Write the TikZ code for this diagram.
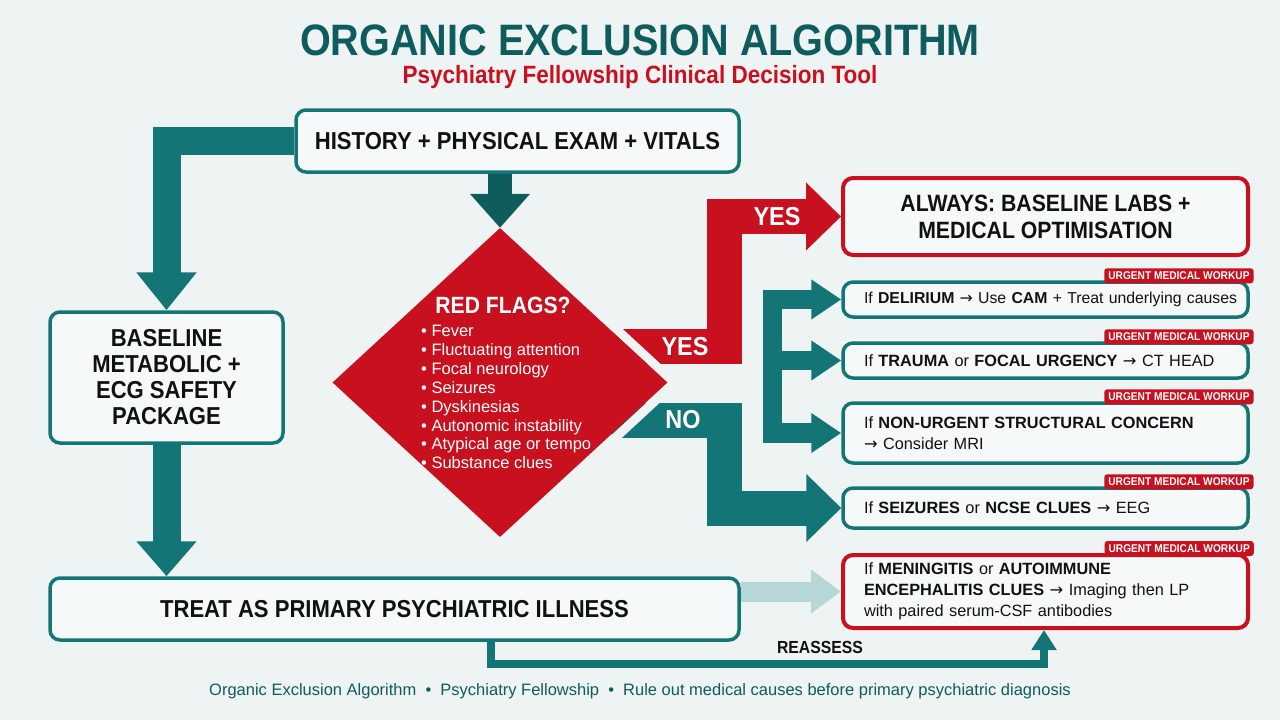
\documentclass[tikz,border=0pt]{standalone}
\usepackage{fontspec}
\setmainfont{Liberation Sans}
\newfontfamily\cf{Liberation Sans}[FakeStretch=0.9]
\newfontfamily\dv{DejaVu Sans}
\usetikzlibrary{shapes.geometric,arrows.meta,calc,backgrounds}
\definecolor{bgc}{HTML}{EEF3F4}
\definecolor{teal1}{HTML}{137576}
\definecolor{tealdk}{HTML}{0E5C5C}
\definecolor{red1}{HTML}{C8101E}
\definecolor{lteal}{HTML}{B7D6D8}
\definecolor{boxfill}{HTML}{F6F9FA}
\definecolor{ink}{HTML}{111111}
\newcommand{\hb}[1]{{\bfseries #1}}
\newcommand{\ar}{{\dv →}}
\newcommand{\fsz}[2]{\fontsize{#1}{#2}\selectfont}
\begin{document}
\begin{tikzpicture}[x=1pt,y=-1pt,
  tbox/.style={draw=teal1, line width=3.5pt, rounded corners=10pt, fill=boxfill, inner sep=0pt, text=ink},
  rbox/.style={draw=red1, line width=4pt, rounded corners=10pt, fill=boxfill, inner sep=0pt, text=ink},
  headtxt/.style={font=\cf\bfseries\fsz{24.5}{26.5}, align=center},
  sidebox/.style={minimum width=405pt, text width=363pt, inner xsep=21pt, inner ysep=0pt, align=left, font=\fsz{16.3}{21}},
  badge/.style={fill=red1, rounded corners=3pt, text=white, font=\cf\bfseries\fsz{11.3}{12}, inner xsep=4pt, inner ysep=0pt, minimum height=15pt, anchor=east},
  fatteal/.style={draw=teal1, line width=28pt, line join=miter, -{Triangle[length=38pt,width=58pt]}},
  fatred/.style={draw=red1, line width=35pt, line join=miter, -{Triangle[length=35pt,width=66pt]}},
  fatno/.style={draw=teal1, line width=35pt, line join=miter, -{Triangle[length=35pt,width=66pt]}},
  fatE/.style={draw=teal1, line width=19.5pt, line join=miter, -{Triangle[length=30pt,width=38pt]}},
  lbl/.style={text=white, font=\cf\bfseries\fsz{26}{28}}
]
\useasboundingbox (0,0) rectangle (1280,720);
\begin{scope}[on background layer]
\fill[bgc] (0,0) rectangle (1280,720);
\end{scope}

% titles
\node[text=tealdk, font=\cf\bfseries\fsz{44}{46}] (title) at (640,40) {ORGANIC EXCLUSION ALGORITHM};
\node[text=red1, font=\cf\bfseries\fsz{25}{27}] (subtitle) at (640,77) {Psychiatry Fellowship Clinical Decision Tool};

% main boxes
\node[tbox, headtxt, minimum width=443pt, minimum height=62pt] (hist) at (517.5,141) {HISTORY + PHYSICAL EXAM + VITALS};
\node[tbox, headtxt, minimum width=233pt, minimum height=131pt, font=\cf\bfseries\fsz{24.5}{26}] (base) at (166.5,377.5) {BASELINE\\METABOLIC +\\ECG SAFETY\\PACKAGE};
\node[tbox, headtxt, minimum width=689pt, minimum height=62pt] (treat) at (394.5,609) {TREAT AS PRIMARY PSYCHIATRIC ILLNESS};

% diamond
\node[diamond, fill=red1, minimum width=335pt, minimum height=309pt, inner sep=0pt] (dia) at (500,382.5) {};
\node[text=white, font=\cf\bfseries\fsz{23.5}{25}] (rf) at (503,305) {RED FLAGS?};
\node[text=white, font=\fsz{16.5}{18.9}, align=left, anchor=north west, inner sep=0pt] (flags) at (421,325) {%
\textbullet\ Fever\\
\textbullet\ Fluctuating attention\\
\textbullet\ Focal neurology\\
\textbullet\ Seizures\\
\textbullet\ Dyskinesias\\
\textbullet\ Autonomic instability\\
\textbullet\ Atypical age or tempo\\
\textbullet\ Substance clues};

% right column
\node[rbox, headtxt, minimum width=405pt, minimum height=77pt, font=\cf\bfseries\fsz{23.6}{27}] (always) at (1045.5,216.5) {ALWAYS: BASELINE LABS +\\MEDICAL OPTIMISATION};
\node[tbox, sidebox, minimum height=35pt, font=\fsz{15.8}{21}] (b1) at (1045.5,299.5) {\mbox{If \hb{DELIRIUM} \ar{} Use \hb{CAM} + Treat underlying causes}};
\node[tbox, sidebox, minimum height=35pt] (b2) at (1045.5,360.5) {If \hb{TRAUMA} or \hb{FOCAL URGENCY} \ar{} CT HEAD};
\node[tbox, sidebox, minimum height=60pt] (b3) at (1045.5,433) {If \hb{NON-URGENT STRUCTURAL CONCERN}\\\ar{} Consider MRI};
\node[tbox, sidebox, minimum height=40pt] (b4) at (1045.5,508) {If \hb{SEIZURES} or \hb{NCSE CLUES} \ar{} EEG};
\node[rbox, sidebox, minimum height=73pt] (b5) at (1045.5,591.5) {If \hb{MENINGITIS} or \hb{AUTOIMMUNE}\\\hb{ENCEPHALITIS CLUES} \ar{} Imaging then LP\\with paired serum-CSF antibodies};

\foreach \b in {b1,b2,b3,b4,b5}
  \node[badge] (\b badge) at ($(\b.north east)+(4,-4.5)$) {URGENT MEDICAL WORKUP};

% labels
\node[lbl] (yes1) at (777,217) {YES};
\node[lbl] (yes2) at (685,347) {YES};
\node[lbl] (no) at (683,420) {NO};
\node[text=ink, font=\cf\bfseries\fsz{17.5}{19}] (reassess) at (820,647) {REASSESS};

% footer
\node[text=tealdk, font=\fsz{16.5}{18}] (footer) at (640,691) {Organic Exclusion Algorithm \ \textbullet\ \ Psychiatry Fellowship \ \textbullet\ \ Rule out medical causes before primary psychiatric diagnosis};

% connectors
\coordinate (yesA) at (612,346.5);
\coordinate (yesB) at (724,0);
\coordinate (noA) at (612,420);
\coordinate (noB) at (724.5,0);
\coordinate (ecol) at (772.5,0);
\coordinate (rA) at (491,664);
\coordinate (rB) at (1044,664);
\begin{scope}[on background layer]
\draw[fatteal] (hist.west) -| (base.north);
\draw[fatteal, -{Triangle[length=35pt,width=58pt]}] (base.south) -- (base.south |- treat.north);
\draw[draw=tealdk, line width=24pt, -{Triangle[length=34pt,width=58pt]}] (dia.north |- hist.south) -- (dia.north);
\draw[fatred] (yesA) -| (yesB |- always.west) -- (always.west);
\draw[fatno] (noA) -| (noB |- b4.west) -- (b4.west);
% gaps between diamond and branch arrows
\draw[bgc, line width=9pt] (597.4,311.7) -- (667.8,376.7);
\draw[bgc, line width=9pt] (661.2,395.3) -- (598.5,453.3);
% E-shaped branches
\draw[fatE] (ecol |- b3.west) |- (b1.west);
\draw[fatE] (ecol |- b1.west) |- (b3.west);
\draw[fatE] (ecol |- b2.west) -- (b2.west);
% light arrow to meningitis box
\draw[lteal, line width=20pt, -{Triangle[length=30pt,width=42pt]}] (treat.east |- b5.west) -- (b5.west);
% reassess loop
\draw[teal1, line width=8pt, line join=miter, -{Triangle[length=20pt,width=24pt]}] (treat.south -| rA) |- (rB) -- (rB |- b5.south);
\end{scope}
\end{tikzpicture}
\end{document}
